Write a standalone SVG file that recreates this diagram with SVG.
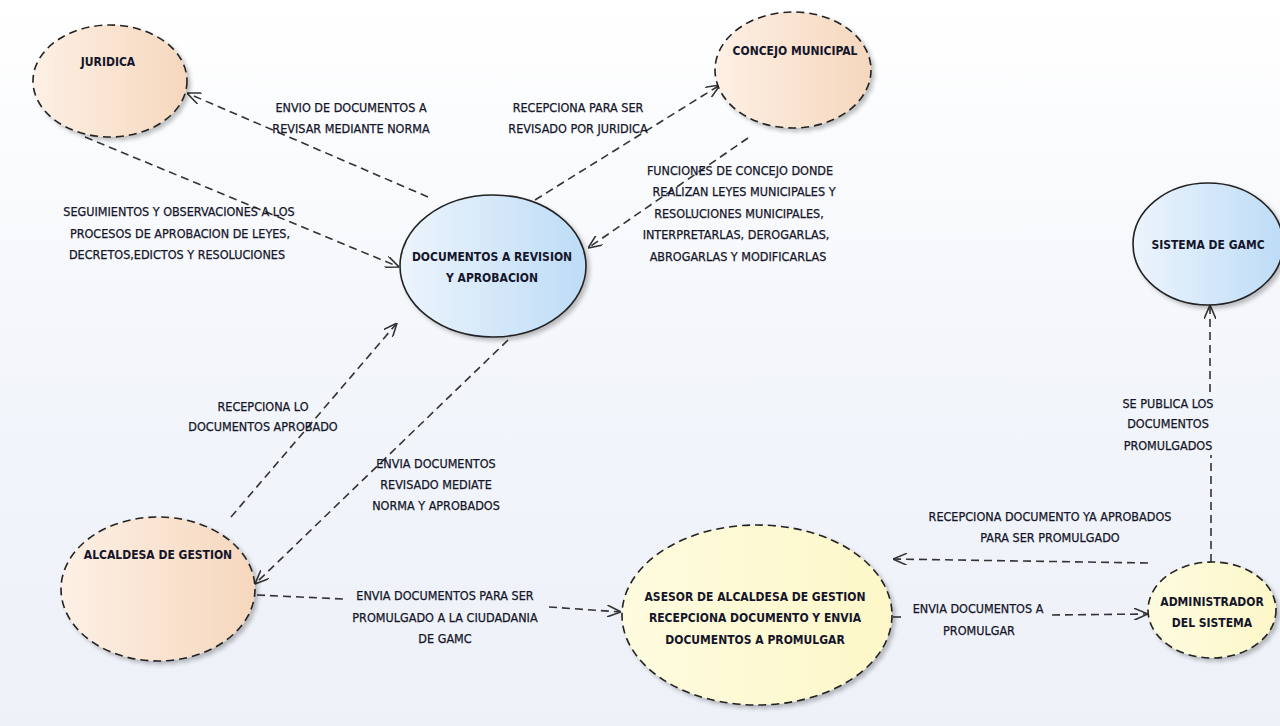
<svg xmlns="http://www.w3.org/2000/svg" width="1280" height="726" viewBox="0 0 1280 726">
  <defs>
    <linearGradient id="bg" x1="0" y1="0" x2="0" y2="1">
      <stop offset="0" stop-color="#ffffff"/>
      <stop offset="0.55" stop-color="#f2f5fa"/>
      <stop offset="1" stop-color="#edf1f8"/>
    </linearGradient>
    <linearGradient id="peach" x1="0" y1="0" x2="1" y2="0">
      <stop offset="0" stop-color="#fdf0e5"/>
      <stop offset="1" stop-color="#f6d7bd"/>
    </linearGradient>
    <linearGradient id="sky" x1="0" y1="0" x2="1" y2="0">
      <stop offset="0" stop-color="#edf4fc"/>
      <stop offset="1" stop-color="#bddcf7"/>
    </linearGradient>
    <linearGradient id="cream" x1="0" y1="0" x2="1" y2="0">
      <stop offset="0" stop-color="#fefce0"/>
      <stop offset="1" stop-color="#fdf7c8"/>
    </linearGradient>
    <filter id="shadow" x="-10%" y="-10%" width="130%" height="130%">
      <feGaussianBlur in="SourceAlpha" stdDeviation="2"/>
      <feOffset dx="3" dy="3" result="b"/>
      <feComponentTransfer><feFuncA type="linear" slope="0.25"/></feComponentTransfer>
      <feMerge><feMergeNode/><feMergeNode in="SourceGraphic"/></feMerge>
    </filter>
    <marker id="open" viewBox="0 0 14 12" refX="14" refY="6" markerWidth="14" markerHeight="12" markerUnits="userSpaceOnUse" orient="auto">
      <path d="M0,0 L14,6 L0,12" fill="none" stroke="#333" stroke-width="1.6"/>
    </marker>
  </defs>
  <style>
    .node ellipse { stroke: #222; stroke-width: 1.6; filter: url(#shadow); }
    .dashed { stroke-dasharray: 8 5; }
    .ntxt { font-family: "Liberation Sans Narrow", "DejaVu Sans Condensed", "Liberation Sans", sans-serif; font-size: 12px; font-weight: bold; fill: #15152a; text-anchor: middle; }
    .ltxt { font-family: "Liberation Sans Narrow", "DejaVu Sans Condensed", "Liberation Sans", sans-serif; font-size: 12.5px; fill: #15152a; text-anchor: middle; stroke: #15152a; stroke-width: 0.25; }
    #connectors line { stroke: #333; stroke-width: 1.6; stroke-dasharray: 8 5; fill: none; }
    #connectors .head { marker-end: url(#open); }
  </style>

  <rect width="1280" height="726" fill="url(#bg)"/>

  <!-- dashed relationships; lines that run under a label are broken around it -->
  <g id="connectors">
    <line class="head" x1="428" y1="197" x2="187" y2="93"/>
    <line class="head" x1="535" y1="200" x2="720" y2="85"/>
    <line class="head" x1="748" y1="138" x2="588" y2="248"/>
    <line class="head" x1="85" y1="137" x2="399" y2="267"/>
    <line class="head" x1="231" y1="517" x2="397" y2="323"/>
    <line class="head" x1="508" y1="340" x2="255" y2="584"/>
    <line x1="257" y1="595" x2="343" y2="599"/>
    <line class="head" x1="549" y1="607" x2="621" y2="612"/>
    <line class="head" x1="1148" y1="563" x2="893" y2="559"/>
    <line x1="893" y1="617" x2="902" y2="617"/>
    <line class="head" x1="1052" y1="615" x2="1148" y2="614"/>
    <line x1="1211" y1="562" x2="1211" y2="455"/>
    <line class="head" x1="1210" y1="392" x2="1210" y2="305"/>
  </g>

  <!-- connector labels -->
  <g id="labels">
    <text class="ltxt" x="351" y="112">ENVIO DE DOCUMENTOS A</text>
    <text class="ltxt" x="351" y="133">REVISAR MEDIANTE NORMA</text>
    <text class="ltxt" x="578" y="112">RECEPCIONA PARA SER</text>
    <text class="ltxt" x="578" y="133">REVISADO POR JURIDICA</text>
    <text class="ltxt" x="740" y="175">FUNCIONES DE CONCEJO DONDE</text>
    <text class="ltxt" x="744" y="196">REALIZAN LEYES MUNICIPALES Y</text>
    <text class="ltxt" x="739" y="218">RESOLUCIONES MUNICIPALES,</text>
    <text class="ltxt" x="736" y="239">INTERPRETARLAS, DEROGARLAS,</text>
    <text class="ltxt" x="738" y="261">ABROGARLAS Y MODIFICARLAS</text>
    <text class="ltxt" x="179" y="216">SEGUIMIENTOS Y OBSERVACIONES A LOS</text>
    <text class="ltxt" x="180" y="238">PROCESOS DE APROBACION DE LEYES,</text>
    <text class="ltxt" x="177" y="259">DECRETOS,EDICTOS Y RESOLUCIONES</text>
    <text class="ltxt" x="263" y="411">RECEPCIONA LO</text>
    <text class="ltxt" x="263" y="431">DOCUMENTOS APROBADO</text>
    <text class="ltxt" x="436" y="468">ENVIA DOCUMENTOS</text>
    <text class="ltxt" x="436" y="489">REVISADO MEDIATE</text>
    <text class="ltxt" x="436" y="510">NORMA Y APROBADOS</text>
    <text class="ltxt" x="445" y="600">ENVIA DOCUMENTOS PARA SER</text>
    <text class="ltxt" x="445" y="622">PROMULGADO A LA CIUDADANIA</text>
    <text class="ltxt" x="445" y="643">DE GAMC</text>
    <text class="ltxt" x="1050" y="521">RECEPCIONA DOCUMENTO YA APROBADOS</text>
    <text class="ltxt" x="1050" y="542">PARA SER PROMULGADO</text>
    <text class="ltxt" x="978" y="613">ENVIA DOCUMENTOS A</text>
    <text class="ltxt" x="979" y="635">PROMULGAR</text>
    <text class="ltxt" x="1168" y="408">SE PUBLICA LOS</text>
    <text class="ltxt" x="1168" y="428">DOCUMENTOS</text>
    <text class="ltxt" x="1168" y="450">PROMULGADOS</text>
  </g>

  <g id="juridica" class="node">
    <ellipse class="dashed" cx="110" cy="81" rx="77" ry="56" fill="url(#peach)"/>
    <text class="ntxt" x="108" y="66">JURIDICA</text>
  </g>
  <g id="concejo-municipal" class="node">
    <ellipse class="dashed" cx="793" cy="70" rx="78" ry="58" fill="url(#peach)"/>
    <text class="ntxt" x="795" y="55">CONCEJO MUNICIPAL</text>
  </g>
  <g id="documentos-revision" class="node">
    <ellipse cx="493" cy="266" rx="93" ry="71" fill="url(#sky)"/>
    <text class="ntxt" x="492" y="261">DOCUMENTOS A REVISION</text>
    <text class="ntxt" x="492" y="282">Y APROBACION</text>
  </g>
  <g id="sistema-gamc" class="node">
    <ellipse cx="1208" cy="244" rx="75" ry="61" fill="url(#sky)"/>
    <text class="ntxt" x="1208" y="249">SISTEMA DE GAMC</text>
  </g>
  <g id="alcaldesa" class="node">
    <ellipse class="dashed" cx="158" cy="589" rx="97" ry="72" fill="url(#peach)"/>
    <text class="ntxt" x="158" y="559">ALCALDESA DE GESTION</text>
  </g>
  <g id="asesor" class="node">
    <ellipse class="dashed" cx="757" cy="615" rx="135" ry="90" fill="url(#cream)"/>
    <text class="ntxt" x="755" y="601">ASESOR DE ALCALDESA DE GESTION</text>
    <text class="ntxt" x="755" y="622">RECEPCIONA DOCUMENTO Y ENVIA</text>
    <text class="ntxt" x="755" y="644">DOCUMENTOS A PROMULGAR</text>
  </g>
  <g id="administrador" class="node">
    <ellipse class="dashed" cx="1212" cy="610" rx="64" ry="48" fill="url(#cream)"/>
    <text class="ntxt" x="1212" y="606">ADMINISTRADOR</text>
    <text class="ntxt" x="1212" y="627">DEL SISTEMA</text>
  </g>
</svg>
